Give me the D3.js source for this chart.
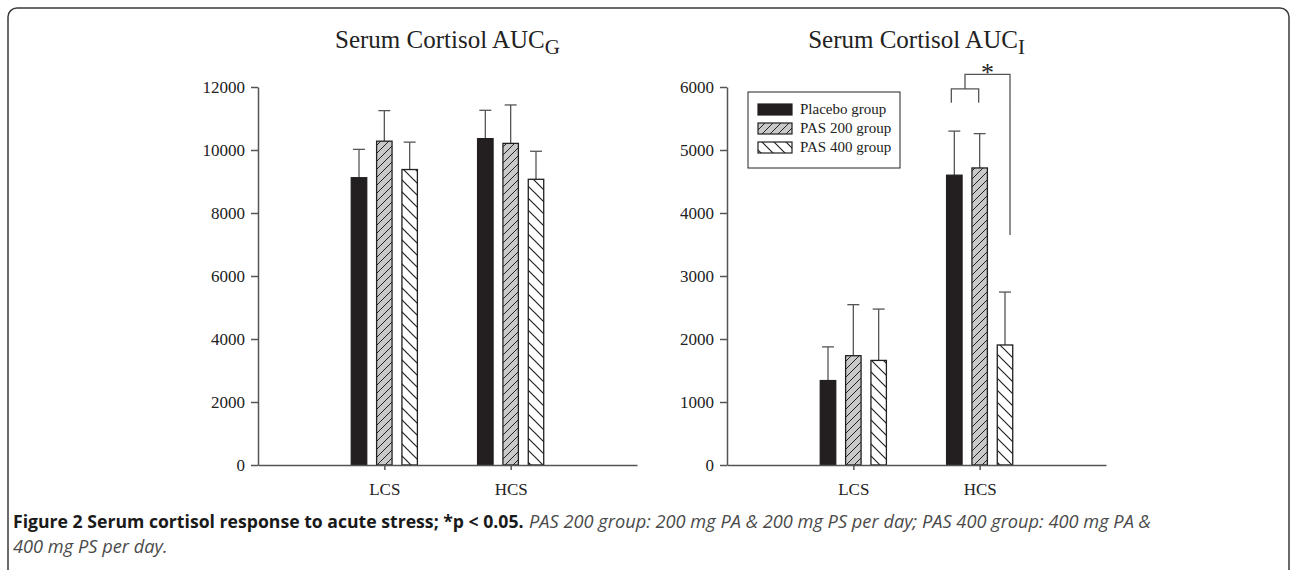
<!DOCTYPE html>
<html><head><meta charset="utf-8">
<script src="https://cdn.jsdelivr.net/npm/d3@7"></script>
<style>body{margin:0;background:#fff} svg{display:block}</style>
</head><body><svg id="c" width="1292" height="570"></svg>
<script>
// ---------- DATA ----------
const categories = ["LCS", "HCS"];
const seriesNames = ["Placebo group", "PAS 200 group", "PAS 400 group"];

// Serum Cortisol AUC_G  (means per category, and upper error = SD)
const aucGPlacebo = [9120, 10360];
const aucGPas200 = [10280, 10210];
const aucGPas400 = [9380, 9070];
const aucGPlaceboErr = [900, 900];
const aucGPas200Err = [970, 1220];
const aucGPas400Err = [870, 890];
const aucGTicks = [0, 2000, 4000, 6000, 8000, 10000, 12000];

// Serum Cortisol AUC_I
const aucIPlacebo = [1340, 4600];
const aucIPas200 = [1735, 4715];
const aucIPas400 = [1660, 1905];
const aucIPlaceboErr = [535, 700];
const aucIPas200Err = [810, 545];
const aucIPas400Err = [815, 840];
const aucITicks = [0, 1000, 2000, 3000, 4000, 5000, 6000];

// significance bracket (AUC_I, HCS): lower bracket level, its leg end, upper level, right leg end
const sigLevels = [5970, 5750, 6200, 3650];
const sigLabel = "*";

const captionBold = "Figure 2 Serum cortisol response to acute stress; *p < 0.05.";
const captionItalic1 = "PAS 200 group: 200 mg PA & 200 mg PS per day; PAS 400 group: 400 mg PA &";
const captionItalic2 = "400 mg PS per day.";

// ---------- LAYOUT ----------
const svg = d3.select("#c");
const plotW = 379, y0px = 465, y1px = 87;
const serif = "'Liberation Serif','Times New Roman',serif";

svg.append("rect").attr("x", 8).attr("y", 8).attr("width", 1281).attr("height", 575)
  .attr("rx", 9).attr("fill", "none").attr("stroke", "#3a3a3a").attr("stroke-width", 1.5);

const defs = svg.append("defs");
const p2 = defs.append("pattern").attr("id", "h200").attr("patternUnits", "userSpaceOnUse")
  .attr("width", 8).attr("height", 8);
p2.append("rect").attr("width", 8).attr("height", 8).attr("fill", "#c9c9c9");
p2.append("path").attr("d", "M-2,2 L2,-2 M0,8 L8,0 M6,10 L10,6").attr("stroke", "#222").attr("stroke-width", 1);
const p4 = defs.append("pattern").attr("id", "h400").attr("patternUnits", "userSpaceOnUse")
  .attr("width", 12).attr("height", 12);
p4.append("rect").attr("width", 12).attr("height", 12).attr("fill", "#fff");
p4.append("path").attr("d", "M0,0 L12,12 M-3,9 L3,15 M9,-3 L15,3").attr("stroke", "#222").attr("stroke-width", 1.2);

const fills = {"Placebo group": "#231f20", "PAS 200 group": "url(#h200)", "PAS 400 group": "url(#h400)"};

const x0 = d3.scalePoint().domain(categories).range([0, plotW]).padding(1);
const xs = d3.scaleBand().domain(seriesNames).range([-38, 38]).paddingInner(0.39).paddingOuter(0.195);

function drawChart(left, title, sub, means, errs, ticks) {
  const g = svg.append("g").attr("transform", `translate(${left},0)`);
  const y = d3.scaleLinear().domain([ticks[0], ticks[ticks.length - 1]]).range([y0px, y1px]);
  const rows = [];
  categories.forEach((c, ci) => seriesNames.forEach((s, si) => {
    rows.push({c, s, v: means[si][ci], e: errs[si][ci]});
  }));
  // axes
  const ay = g.append("g").call(d3.axisLeft(y).tickValues(ticks).tickFormat(d3.format("d"))
    .tickSize(7).tickSizeOuter(0).tickPadding(6));
  const ax = g.append("g").attr("transform", `translate(0,${y0px})`)
    .call(d3.axisBottom(x0).tickSize(5).tickSizeOuter(0).tickPadding(13));
  [ay, ax].forEach(a => {
    a.selectAll("path,line").attr("stroke", "#555").attr("stroke-width", 1.5);
    a.selectAll("text").attr("font-family", serif).attr("font-size", 17).attr("fill", "#222");
  });
  // error bars
  const eg = g.append("g").attr("stroke", "#555").attr("stroke-width", 1.3);
  rows.forEach(r => {
    const cx = x0(r.c) + xs(r.s) + xs.bandwidth() / 2;
    eg.append("line").attr("x1", cx).attr("x2", cx).attr("y1", y(r.v)).attr("y2", y(r.v + r.e));
    eg.append("line").attr("x1", cx - 6).attr("x2", cx + 6).attr("y1", y(r.v + r.e)).attr("y2", y(r.v + r.e));
  });
  // bars
  g.append("g").selectAll("rect").data(rows).join("rect")
    .attr("x", d => x0(d.c) + xs(d.s))
    .attr("width", xs.bandwidth())
    .attr("y", d => y(d.v))
    .attr("height", d => y(0) - y(d.v))
    .attr("fill", d => fills[d.s])
    .attr("stroke", "#231f20").attr("stroke-width", 1.3);
  ax.raise();
  // title
  const t = g.append("text").attr("x", plotW / 2).attr("y", 48).attr("text-anchor", "middle")
    .attr("font-family", serif).attr("font-size", 25).attr("fill", "#222");
  t.append("tspan").text(title);
  t.append("tspan").attr("dy", 6).attr("font-size", 21).text(sub);
  return {g, y};
}

drawChart(258, "Serum Cortisol AUC", "G",
  [aucGPlacebo, aucGPas200, aucGPas400], [aucGPlaceboErr, aucGPas200Err, aucGPas400Err], aucGTicks);
const R = drawChart(727, "Serum Cortisol AUC", "I",
  [aucIPlacebo, aucIPas200, aucIPas400], [aucIPlaceboErr, aucIPas200Err, aucIPas400Err], aucITicks);

// significance bracket
{
  const g = R.g, y = R.y;
  const cx = s => x0("HCS") + xs(s) + xs.bandwidth() / 2;
  const a = cx("Placebo group") - 3, b = cx("PAS 200 group") - 1, m = (a + b) / 2, r = cx("PAS 400 group") + 5;
  const path = d3.path();
  path.moveTo(a, y(sigLevels[1])); path.lineTo(a, y(sigLevels[0])); path.lineTo(b, y(sigLevels[0])); path.lineTo(b, y(sigLevels[1]));
  path.moveTo(m, y(sigLevels[0])); path.lineTo(m, y(sigLevels[2])); path.lineTo(r, y(sigLevels[2])); path.lineTo(r, y(sigLevels[3]));
  g.append("path").attr("d", path.toString()).attr("fill", "none").attr("stroke", "#555").attr("stroke-width", 1.3);
  g.append("text").attr("x", (m + r) / 2).attr("y", y(sigLevels[2]) + 7).attr("text-anchor", "middle")
    .attr("font-family", serif).attr("font-size", 26).attr("fill", "#222").text(sigLabel);

  // legend
  const lg = g.append("g").attr("transform", "translate(21,92)");
  lg.append("rect").attr("width", 152).attr("height", 76).attr("fill", "#fff").attr("stroke", "#222").attr("stroke-width", 1);
  seriesNames.forEach((s, i) => {
    lg.append("rect").attr("x", 10).attr("y", 12 + i * 19).attr("width", 34).attr("height", 11)
      .attr("fill", fills[s]).attr("stroke", "#231f20").attr("stroke-width", 1.2);
    lg.append("text").attr("x", 52).attr("y", 22 + i * 19).attr("font-family", serif)
      .attr("font-size", 15).attr("fill", "#222").text(s);
  });
}

// caption
function fitText(sel, x, y, targetW) {
  const w = sel.node().getComputedTextLength();
  const k = targetW / w;
  sel.attr("transform", `translate(${x},${y}) scale(${k},1)`);
  return k;
}
const sans = "'Open Sans','Noto Sans',sans-serif";
const cb = svg.append("text").attr("font-family", sans).attr("font-weight", "bold").attr("font-size", 18.5)
  .attr("fill", "#1a1a1a").text(captionBold);
fitText(cb, 13, 528, 511);
const ci1 = svg.append("text").attr("font-family", sans).attr("font-style", "italic").attr("font-size", 18.5)
  .attr("fill", "#4a4a4a").text(captionItalic1);
const k = fitText(ci1, 529, 528, 622);
svg.append("text").attr("font-family", sans).attr("font-style", "italic").attr("font-size", 18.5)
  .attr("fill", "#4a4a4a").text(captionItalic2)
  .attr("transform", `translate(13,553) scale(${k},1)`);
</script></body></html>
